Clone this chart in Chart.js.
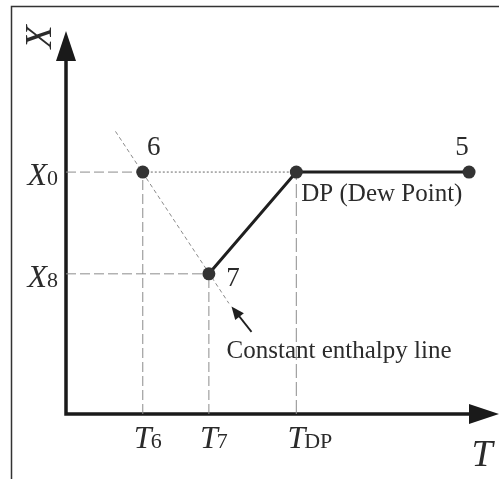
<!DOCTYPE html>
<html>
<head>
<meta charset="utf-8">
<title>Dew point cooling path</title>
<script src="https://cdn.jsdelivr.net/npm/chart.js@4.4.1/dist/chart.umd.min.js"></script>
<style>
  html, body { margin: 0; padding: 0; background: #fff; overflow: hidden; }
  #wrap { position: relative; width: 499px; height: 479px; }
</style>
</head>
<body>
<div id="wrap"><canvas id="chart_dp" width="499" height="479"></canvas></div>
<script>
// state points on the T-X diagram (arbitrary units)
const stateNames = ['6', '7', 'DP', '5'];
const stateT = [1.8, 3.35, 5.4, 9.45];
const stateX = [6.3, 3.65, 6.3, 6.3];

// axis tick marks: main letter + subscript
const tTickValues = [1.8, 3.35, 5.4];
const tTickSubs = ['6', '7', 'DP'];
const xTickValues = [6.3, 3.65];
const xTickSubs = ['0', '8'];

// constant enthalpy line through 6 and 7
const enthalpyT = [1.16, 3.82];
const enthalpyX = [7.36, 2.88];

// pointer arrow for the enthalpy line label
const pointerT = [4.35, 3.88];
const pointerX = [2.14, 2.8];

const SERIF = '"Liberation Serif", "Times New Roman", serif';
const INK = '#2b2b2b';

function pt(i) {
	return { x: stateT[i], y: stateX[i] };
}

// guide lines from the axes to the state points
const guideDashed = [
	[{ x: 0, y: stateX[0] }, pt(0)],
	[{ x: 0, y: stateX[1] }, pt(1)],
	[{ x: stateT[0], y: 0 }, pt(0)],
	[{ x: stateT[1], y: 0 }, pt(1)]
];

// guides sit under the process line and the dots (higher order = drawn first)
function guideSet(data, dash, color, width) {
	return {
		data: data,
		showLine: true,
		borderColor: color,
		borderWidth: width,
		borderDash: dash,
		pointRadius: 0,
		pointHoverRadius: 0,
		fill: false,
		clip: false,
		order: 5
	};
}

const datasets = [];
guideDashed.forEach(function (seg) {
	datasets.push(guideSet(seg, [10, 4], '#8c8c8c', 1));
});
// dew point vertical
datasets.push(guideSet([{ x: stateT[2], y: 0 }, pt(2)], [14, 4], '#8c8c8c', 1));
// dotted link 6 -> DP
datasets.push(guideSet([pt(0), pt(2)], [2, 2], '#9a9a9a', 1.5));
// constant enthalpy line
datasets.push(guideSet(
	enthalpyT.map(function (t, i) { return { x: t, y: enthalpyX[i] }; }),
	[4, 3], '#8a8a8a', 1
));
// process path 7 -> DP -> 5
datasets.push({
	data: [pt(1), pt(2), pt(3)],
	showLine: true,
	borderColor: '#1f1f1f',
	borderWidth: 3,
	pointRadius: 6.5,
	pointBackgroundColor: '#333',
	pointBorderWidth: 0,
	clip: false,
	order: 1
});
// state 6
datasets.push({
	data: [pt(0)],
	showLine: false,
	pointRadius: 6.5,
	pointBackgroundColor: '#333',
	pointBorderWidth: 0,
	clip: false,
	order: 0
});

function arrowHead(ctx, tipX, tipY, fromX, fromY, len, half) {
	const a = Math.atan2(tipY - fromY, tipX - fromX);
	const bx = tipX - Math.cos(a) * len;
	const by = tipY - Math.sin(a) * len;
	ctx.beginPath();
	ctx.moveTo(tipX, tipY);
	ctx.lineTo(bx + Math.sin(a) * half, by - Math.cos(a) * half);
	ctx.lineTo(bx - Math.sin(a) * half, by + Math.cos(a) * half);
	ctx.closePath();
	ctx.fill();
}

// frame and axes with arrows
const axesPlugin = {
	id: 'axesPlugin',
	beforeDatasetsDraw: function (chart) {
		const ctx = chart.ctx;
		const xs = chart.scales.x, ys = chart.scales.y;
		const x0 = xs.getPixelForValue(0), y0 = ys.getPixelForValue(0);
		const yTop = ys.getPixelForValue(ys.max);
		ctx.save();
		// outer frame
		ctx.strokeStyle = '#333';
		ctx.lineWidth = 1.5;
		ctx.beginPath();
		ctx.moveTo(11.5, chart.height);
		ctx.lineTo(11.5, 6.5);
		ctx.lineTo(chart.width, 6.5);
		ctx.stroke();
		// axes
		ctx.strokeStyle = '#1a1a1a';
		ctx.fillStyle = '#1a1a1a';
		ctx.lineWidth = 3.5;
		ctx.lineJoin = 'miter';
		ctx.beginPath();
		ctx.moveTo(x0, yTop + 28);
		ctx.lineTo(x0, y0);
		ctx.lineTo(chart.width - 29, y0);
		ctx.stroke();
		arrowHead(ctx, x0, yTop + 1, x0, y0, 30, 10);
		arrowHead(ctx, chart.width, y0, x0, y0, 30, 10);
		ctx.restore();
	},
	afterDatasetsDraw: function (chart) {
		const ctx = chart.ctx;
		const xs = chart.scales.x, ys = chart.scales.y;
		const x0 = xs.getPixelForValue(0), y0 = ys.getPixelForValue(0);
		const mainFont = 'italic 32px ' + SERIF;
		const subFont = '22px ' + SERIF;
		ctx.save();
		ctx.fillStyle = INK;
		ctx.textBaseline = 'alphabetic';
		ctx.textAlign = 'left';

		// T ticks: letter centred on the guide, subscript after it
		tTickValues.forEach(function (v, i) {
			const px = xs.getPixelForValue(v);
			ctx.font = mainFont;
			const w = ctx.measureText('T').width;
			ctx.fillText('T', px - w / 2, y0 + 34);
			ctx.font = subFont;
			ctx.fillText(tTickSubs[i], px + w / 2 - 1, y0 + 34);
		});

		// X ticks: right aligned against the axis
		xTickValues.forEach(function (v, i) {
			const py = ys.getPixelForValue(v);
			ctx.font = subFont;
			const ws = ctx.measureText(xTickSubs[i]).width;
			ctx.font = mainFont;
			const wm = ctx.measureText('X').width;
			const right = x0 - 8;
			ctx.fillText('X', right - ws - wm, py + 13);
			ctx.font = subFont;
			ctx.fillText(xTickSubs[i], right - ws, py + 13);
		});

		// axis titles
		ctx.font = 'italic 38px ' + SERIF;
		ctx.textAlign = 'center';
		ctx.fillText('T', chart.width - 17, y0 + 52);
		ctx.save();
		ctx.translate(x0 - 25, ys.getPixelForValue(ys.max) + 7);
		ctx.rotate(-Math.PI / 2);
		ctx.textBaseline = 'middle';
		ctx.fillText('X', 0, 0);
		ctx.restore();

		// state numbers
		const p = stateT.map(function (t, i) {
			return { x: xs.getPixelForValue(t), y: ys.getPixelForValue(stateX[i]) };
		});
		ctx.font = '27px ' + SERIF;
		ctx.fillText(stateNames[0], p[0].x + 11, p[0].y - 17);
		ctx.fillText(stateNames[1], p[1].x + 24, p[1].y + 12);
		ctx.fillText(stateNames[3], p[3].x - 7, p[3].y - 17);

		ctx.textAlign = 'left';
		ctx.font = '25px ' + SERIF;
		ctx.fillText('DP (Dew Point)', p[2].x + 5, p[2].y + 29);

		// pointer arrow and enthalpy label
		const ax = xs.getPixelForValue(pointerT[0]), ay = ys.getPixelForValue(pointerX[0]);
		const bx = xs.getPixelForValue(pointerT[1]), by = ys.getPixelForValue(pointerX[1]);
		ctx.strokeStyle = '#1f1f1f';
		ctx.fillStyle = '#1f1f1f';
		ctx.lineWidth = 1.8;
		ctx.beginPath();
		ctx.moveTo(ax, ay);
		ctx.lineTo(bx + (ax - bx) * 0.35, by + (ay - by) * 0.35);
		ctx.stroke();
		arrowHead(ctx, bx, by, ax, ay, 13, 5.5);
		ctx.fillStyle = INK;
		ctx.fillText('Constant enthalpy line', ax - 25, ay + 26);
		ctx.restore();
	}
};

const chart = new Chart(document.getElementById('chart_dp').getContext('2d'), {
	type: 'scatter',
	data: { datasets: datasets },
	options: {
		responsive: false,
		animation: false,
		devicePixelRatio: 1,
		layout: { padding: { left: 66, top: 30, right: 3, bottom: 65 } },
		plugins: { legend: { display: false }, tooltip: { enabled: false } },
		scales: {
			x: { type: 'linear', min: 0, max: 10, display: false },
			y: { type: 'linear', min: 0, max: 10, display: false }
		}
	},
	plugins: [axesPlugin]
});
</script>
</body>
</html>
